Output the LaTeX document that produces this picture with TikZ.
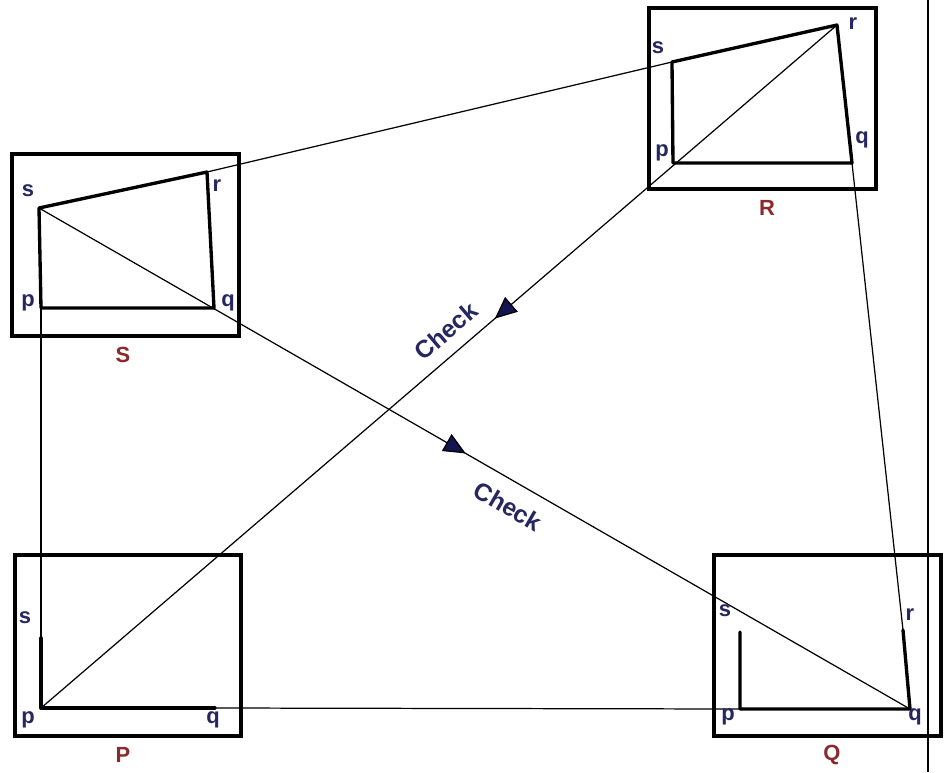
\documentclass[tikz,border=0pt]{standalone}
\usepackage{fontspec}
\setmainfont{Liberation Sans}
\usetikzlibrary{arrows.meta,decorations.markings}
\definecolor{lblblue}{HTML}{262660}
\definecolor{arrblue}{HTML}{141450}
\definecolor{lblred}{HTML}{8B2A2A}
\tikzset{
  frame/.style={draw=black,line width=2.1pt},
  quadline/.style={draw=black,line width=1.9pt,line cap=round,line join=round},
  thinline/.style={draw=black,line width=0.7pt},
  ptlabel/.style={text=lblblue,font=\fontsize{12.5}{14}\selectfont\bfseries,inner sep=0pt},
  boxlabel/.style={text=lblred,font=\fontsize{12.5}{14}\selectfont\bfseries,inner sep=0pt},
  checklabel/.style={text=lblblue,font=\fontsize{14}{16}\selectfont\bfseries,inner sep=0pt},
  midarrow/.style={postaction={decorate},decoration={markings,
    mark=at position #1 with {\arrow{Triangle[length=12.5pt,width=11pt,fill=arrblue]}}}}
}
\begin{document}
\begin{tikzpicture}[x=0.02cm,y=-0.02cm]
\useasboundingbox[fill=white] (0,0) rectangle (948,772);
% frames
\coordinate (fR1) at (649,8);   \coordinate (fR2) at (876,189);
\coordinate (fS1) at (12,154);  \coordinate (fS2) at (239,336);
\coordinate (fP1) at (15,555);  \coordinate (fP2) at (241,736);
\coordinate (fQ1) at (714,555); \coordinate (fQ2) at (941,736);
\draw[frame] (fR1) rectangle (fR2);
\draw[frame] (fS1) rectangle (fS2);
\draw[frame] (fP1) rectangle (fP2);
\draw[frame] (fQ1) rectangle (fQ2);
% right border line
\coordinate (edgeT) at (928,0);
\coordinate (edgeB) at (928,772);
\draw[line width=1.2pt] (edgeT) -- (edgeB);
% corner points
\coordinate (Rs) at (672,62);
\coordinate (Rr) at (837,25);
\coordinate (Rq) at (852,163);
\coordinate (Rp) at (673,163);
\coordinate (Ss) at (39,208);
\coordinate (Sr) at (207,172);
\coordinate (Sq) at (214,308);
\coordinate (Sp) at (41,308);
\coordinate (Ps) at (41,638);
\coordinate (Pp) at (41,708);
\coordinate (Pq) at (215,708);
\coordinate (Qs) at (740,632);
\coordinate (Qp) at (740,709);
\coordinate (Qq) at (910,709);
\coordinate (Qr) at (903,630);
% thin connectors
\draw[thinline] (Sr) -- (Rs);
\draw[thinline] (Sp) -- (Ps);
\draw[thinline] (Pq) -- (Qp);
\draw[thinline] (Rq) -- (Qr);
\draw[thinline,midarrow=0.43] (Rr) -- (Pp);
\draw[thinline,midarrow=0.49] (Ss) -- (Qq);
% quadrilaterals
\draw[quadline] (Rp) -- (Rs) -- (Rr) -- (Rq) -- cycle;
\draw[quadline] (Sp) -- (Ss) -- (Sr) -- (Sq) -- cycle;
\draw[quadline] (Ps) -- (Pp) -- (Pq);
\draw[quadline] (Qs) -- (Qp) -- (Qq) -- (Qr);
% point labels
\node[ptlabel] (lRs) at (658,48) {s};
\node[ptlabel] (lRr) at (853,24) {r};
\node[ptlabel] (lRq) at (862,140) {q};
\node[ptlabel] (lRp) at (662,153) {p};
\node[ptlabel] (lSs) at (28,191) {s};
\node[ptlabel] (lSr) at (217,186) {r};
\node[ptlabel] (lSq) at (228,303) {q};
\node[ptlabel] (lSp) at (28,303) {p};
\node[ptlabel] (lPs) at (25,618) {s};
\node[ptlabel] (lPp) at (28,720) {p};
\node[ptlabel] (lPq) at (213,720) {q};
\node[ptlabel] (lQs) at (725,611) {s};
\node[ptlabel] (lQr) at (910,615) {r};
\node[ptlabel] (lQp) at (728,717) {p};
\node[ptlabel] (lQq) at (915,717) {q};
% box labels
\node[boxlabel] (lR) at (767,208) {R};
\node[boxlabel] (lS) at (123,355) {S};
\node[boxlabel] (lP) at (123,755) {P};
\node[boxlabel] (lQ) at (832,755) {Q};
% check labels
\node[checklabel,rotate=40.6] (chk1) at (446,331) {Check};
\node[checklabel,rotate=-30] (chk2) at (508,506) {Check};
\end{tikzpicture}
\end{document}
